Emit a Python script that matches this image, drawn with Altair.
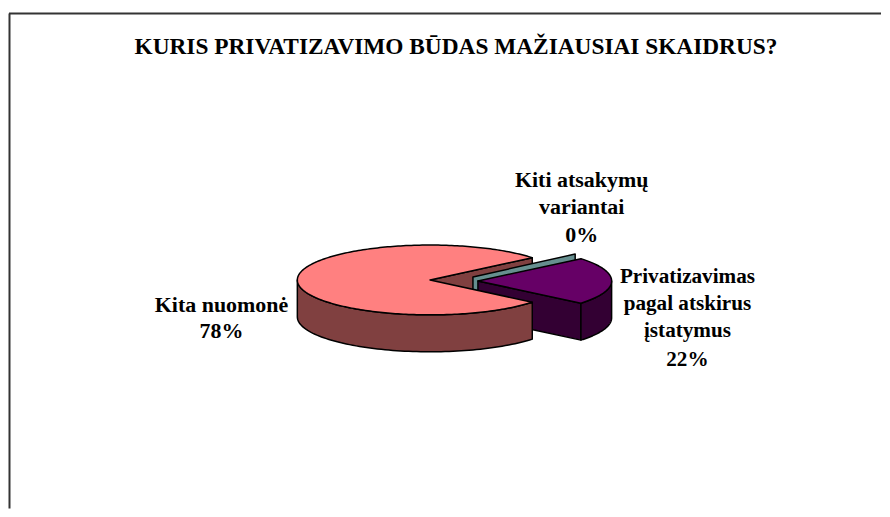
import math
import altair as alt

# --- data
categories = ["Kita nuomonė", "Privatizavimas pagal atskirus įstatymus", "Kiti atsakymų variantai"]
values = [78, 22, 0]
title_text = "KURIS PRIVATIZAVIMO BŪDAS MAŽIAUSIAI SKAIDRUS?"
label_lines = ["Kiti atsakymų", "variantai", "0%",
               "Privatizavimas", "pagal atskirus", "įstatymus", "22%",
               "Kita nuomonė", "78%"]
label_x = [582, 582, 582, 688, 688, 688, 688, 221, 221]
label_y = [180, 207, 235, 277, 304, 331, 360, 305, 331]
label_size = [22, 22, 22, 21.2, 21.2, 21.2, 21.2, 22, 22]

# --- layout (page pixels, the view starts at 8,8)
W, H = 874, 501
OFF = 8
DEPTH = 37
PINK_C, PINK_R = (430, 280), (133, 35)
GRAY_C, GRAY_R = (473, 277), (133, 36)
PURP_C, PURP_R = (478, 281), (134, 35)
PINK, PINK_D = "#FF8080", "#804040"
PURP, PURP_D = "#660066", "#330033"
GRAY_D = "#668F8F"

half = values[1] / 100 * 360 / 2


def pt(c, r, deg, dy=0):
    a = math.radians(deg)
    return (c[0] + r[0] * math.cos(a) - OFF, c[1] + r[1] * math.sin(a) + dy - OFF)


def arc(c, r, a0, a1, dy=0, n=80):
    return [pt(c, r, a0 + (a1 - a0) * i / n, dy) for i in range(n + 1)]


def feature(points, fill):
    ring = [list(p) for p in points] + [list(points[0])]
    return {"type": "Feature", "properties": {"fill": fill},
            "geometry": {"type": "Polygon", "coordinates": [ring]}}


def apex(c, dy=0):
    return (c[0] - OFF, c[1] - OFF + dy)


features = [
    # wall of the main slice behind the gap
    feature([apex(PINK_C), pt(PINK_C, PINK_R, -half), pt(PINK_C, PINK_R, -half, DEPTH), apex(PINK_C, DEPTH)], PINK_D),
    # zero-width slice, only its cut wall shows
    feature([apex(GRAY_C), pt(GRAY_C, GRAY_R, -half), pt(GRAY_C, GRAY_R, -half, DEPTH), apex(GRAY_C, DEPTH)], GRAY_D),
    # purple slice
    feature([apex(PURP_C), pt(PURP_C, PURP_R, half), pt(PURP_C, PURP_R, half, DEPTH), apex(PURP_C, DEPTH)], PURP_D),
    feature(arc(PURP_C, PURP_R, 0, half) + arc(PURP_C, PURP_R, half, 0, DEPTH), PURP_D),
    feature([apex(PURP_C)] + arc(PURP_C, PURP_R, -half, half), PURP),
    # main slice
    feature(arc(PINK_C, PINK_R, half, 180) + arc(PINK_C, PINK_R, 180, half, DEPTH), PINK_D),
    feature([apex(PINK_C)] + arc(PINK_C, PINK_R, half, 360 - half, n=240), PINK),
]

pie = alt.Chart(alt.Data(values=features)).mark_geoshape(
    stroke="black", strokeWidth=1.5, strokeJoin="round"
).encode(
    fill=alt.Fill("properties.fill:N", scale=None)
).project(type="identity", scale=1, translate=[0, 0])

frame = alt.Chart(alt.Data(values=[
    {"x": 0, "y": 5, "x2": W, "y2": 5},
    {"x": 0.5, "y": 5, "x2": 0.5, "y2": H},
])).mark_rule(color="#333333", strokeWidth=2).encode(
    x=alt.X("x:Q", scale=None), x2="x2:Q",
    y=alt.Y("y:Q", scale=None), y2="y2:Q",
)

labels = alt.Chart(alt.Data(values=[
    {"t": t, "x": x - OFF, "y": y - OFF, "s": s}
    for t, x, y, s in zip(label_lines, label_x, label_y, label_size)
])).mark_text(
    font="Liberation Serif", fontWeight="bold", color="black", align="center", baseline="middle"
).encode(
    x=alt.X("x:Q", scale=None), y=alt.Y("y:Q", scale=None), text="t:N",
    size=alt.Size("s:Q", scale=None, legend=None),
)

title = alt.Chart(alt.Data(values=[{"t": title_text, "x": 456 - OFF, "y": 47 - OFF}])).mark_text(
    font="Liberation Serif", fontWeight="bold", fontSize=23.4, color="black", align="center", baseline="middle"
).encode(x=alt.X("x:Q", scale=None), y=alt.Y("y:Q", scale=None), text="t:N")

chart = alt.layer(frame, pie, labels, title).properties(
    width=W, height=H, padding=0, background="white"
).configure_view(stroke=None)

chart.save("out.html", embed_options={"renderer": "svg", "actions": False})
